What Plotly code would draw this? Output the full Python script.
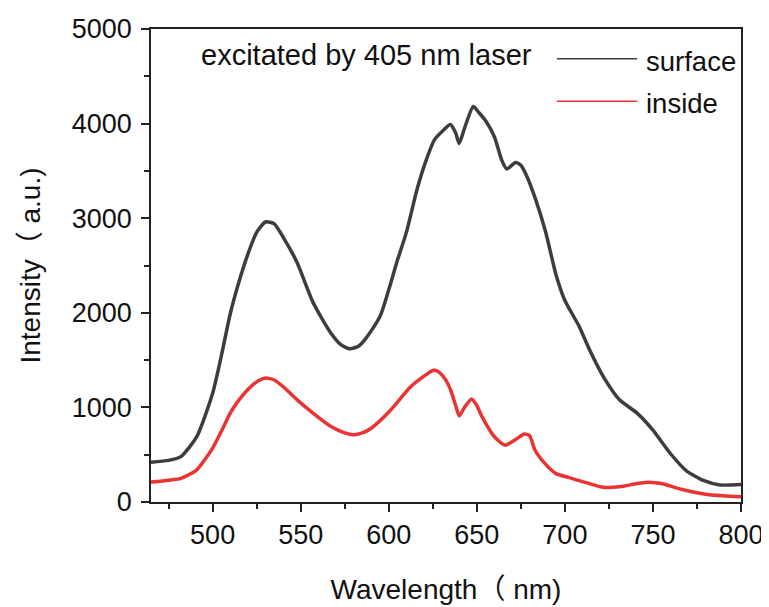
import plotly.graph_objects as go

# Surface spectrum (wavelength nm, intensity a.u.)
surface_wl = [465, 475, 482, 491, 500, 505, 510, 515, 520, 525, 530, 535, 540, 548, 557, 567, 573, 578,
              583, 587, 595, 605, 610, 616, 621, 626, 631, 635, 638, 640, 643, 648, 651, 655, 660, 664,
              667, 672, 675, 678, 683, 689, 695, 700, 708, 714, 722, 731, 741, 750, 760, 769, 779, 788, 800]
surface_int = [420, 440, 480, 690, 1150, 1550, 1990, 2330, 2620, 2850, 2960, 2940, 2800, 2530, 2110, 1790,
               1660, 1620, 1650, 1730, 1960, 2560, 2850, 3300, 3600, 3830, 3930, 3990, 3900, 3790, 3950,
               4180, 4120, 4030, 3860, 3620, 3520, 3590, 3560, 3460, 3220, 2860, 2400, 2130, 1860, 1610,
               1320, 1080, 940, 760, 510, 330, 225, 180, 185]

# Inside spectrum
inside_wl = [465, 475, 482, 491, 500, 505, 510, 515, 520, 525, 530, 535, 540, 548, 557, 567, 575, 580,
             585, 590, 601, 612, 620, 625, 628, 632, 635, 638, 640, 643, 647, 650, 653, 660, 666, 672,
             677, 680, 683, 689, 695, 702, 712, 722, 731, 741, 748, 756, 766, 779, 790, 800]
inside_int = [210, 230, 250, 340, 570, 750, 940, 1080, 1190, 1270, 1310, 1290, 1220, 1080, 940, 800, 730,
              710, 730, 780, 970, 1210, 1330, 1390, 1380, 1300, 1190, 1020, 910, 1000, 1090, 1020, 900,
              690, 600, 660, 720, 700, 550, 400, 300, 260, 205, 155, 160, 195, 210, 190, 135, 85, 65, 55]

series_names = ["surface", "inside"]
series_colors = ["#3d3d3d", "#ea3434"]

x_ticks = [500, 550, 600, 650, 700, 750, 800]
y_ticks = [0, 1000, 2000, 3000, 4000, 5000]

FONT = "Liberation Sans, Arial, Noto Sans CJK SC, sans-serif"
TXT = "#111111"

fig = go.Figure()
for wl, inten, name, col in [(surface_wl, surface_int, series_names[0], series_colors[0]),
                             (inside_wl, inside_int, series_names[1], series_colors[1])]:
    fig.add_trace(go.Scatter(x=wl, y=inten, mode="lines", name=name,
                             line=dict(color=col, width=3.5, shape="spline", smoothing=0.6),
                             showlegend=False))

# manual legend (long line samples as in the reference)
leg_line_y = [0.937, 0.847]
leg_text_y = [0.932, 0.843]
for name, col, ly, ty in zip(series_names, series_colors, leg_line_y, leg_text_y):
    fig.add_shape(type="line", xref="paper", yref="paper", x0=0.688, x1=0.824, y0=ly, y1=ly,
                  line=dict(color=col, width=1.5))
    fig.add_annotation(xref="paper", yref="paper", x=0.835, y=ty, text=name, showarrow=False,
                       xanchor="left", yanchor="middle", font=dict(size=27.5, color=TXT, family=FONT))

fig.add_annotation(xref="paper", yref="paper", x=0.082, y=0.945, text="excitated by 405 nm laser",
                   showarrow=False, xanchor="left", yanchor="middle",
                   font=dict(size=29, color=TXT, family=FONT))

axis_common = dict(showline=True, linecolor="#222", linewidth=1.5, mirror=True, ticks="outside",
                   ticklen=8, tickwidth=1.5, tickcolor="#222", showgrid=False, zeroline=False,
                   automargin=False, tickfont=dict(size=27, color=TXT, family=FONT))

fig.update_xaxes(range=[465, 800], tickvals=x_ticks,
                 minor=dict(ticks="outside", ticklen=5, tickwidth=1.5, tickcolor="#222", dtick=25, tick0=475),
                 title=dict(text="Wavelength（ nm)", font=dict(size=28, color=TXT, family=FONT), standoff=30),
                 **axis_common)
fig.update_yaxes(range=[0, 5000], tickvals=y_ticks, ticklabelstandoff=4,
                 minor=dict(ticks="outside", ticklen=5, tickwidth=1.5, tickcolor="#222", dtick=500),
                 title=dict(text="Intensity（ a.u.)", font=dict(size=28, color=TXT, family=FONT), standoff=23),
                 **axis_common)

fig.update_layout(width=761, height=599, margin=dict(l=143, r=28, t=21, b=105),
                  paper_bgcolor="white", plot_bgcolor="white")

fig.write_html("out.html")
